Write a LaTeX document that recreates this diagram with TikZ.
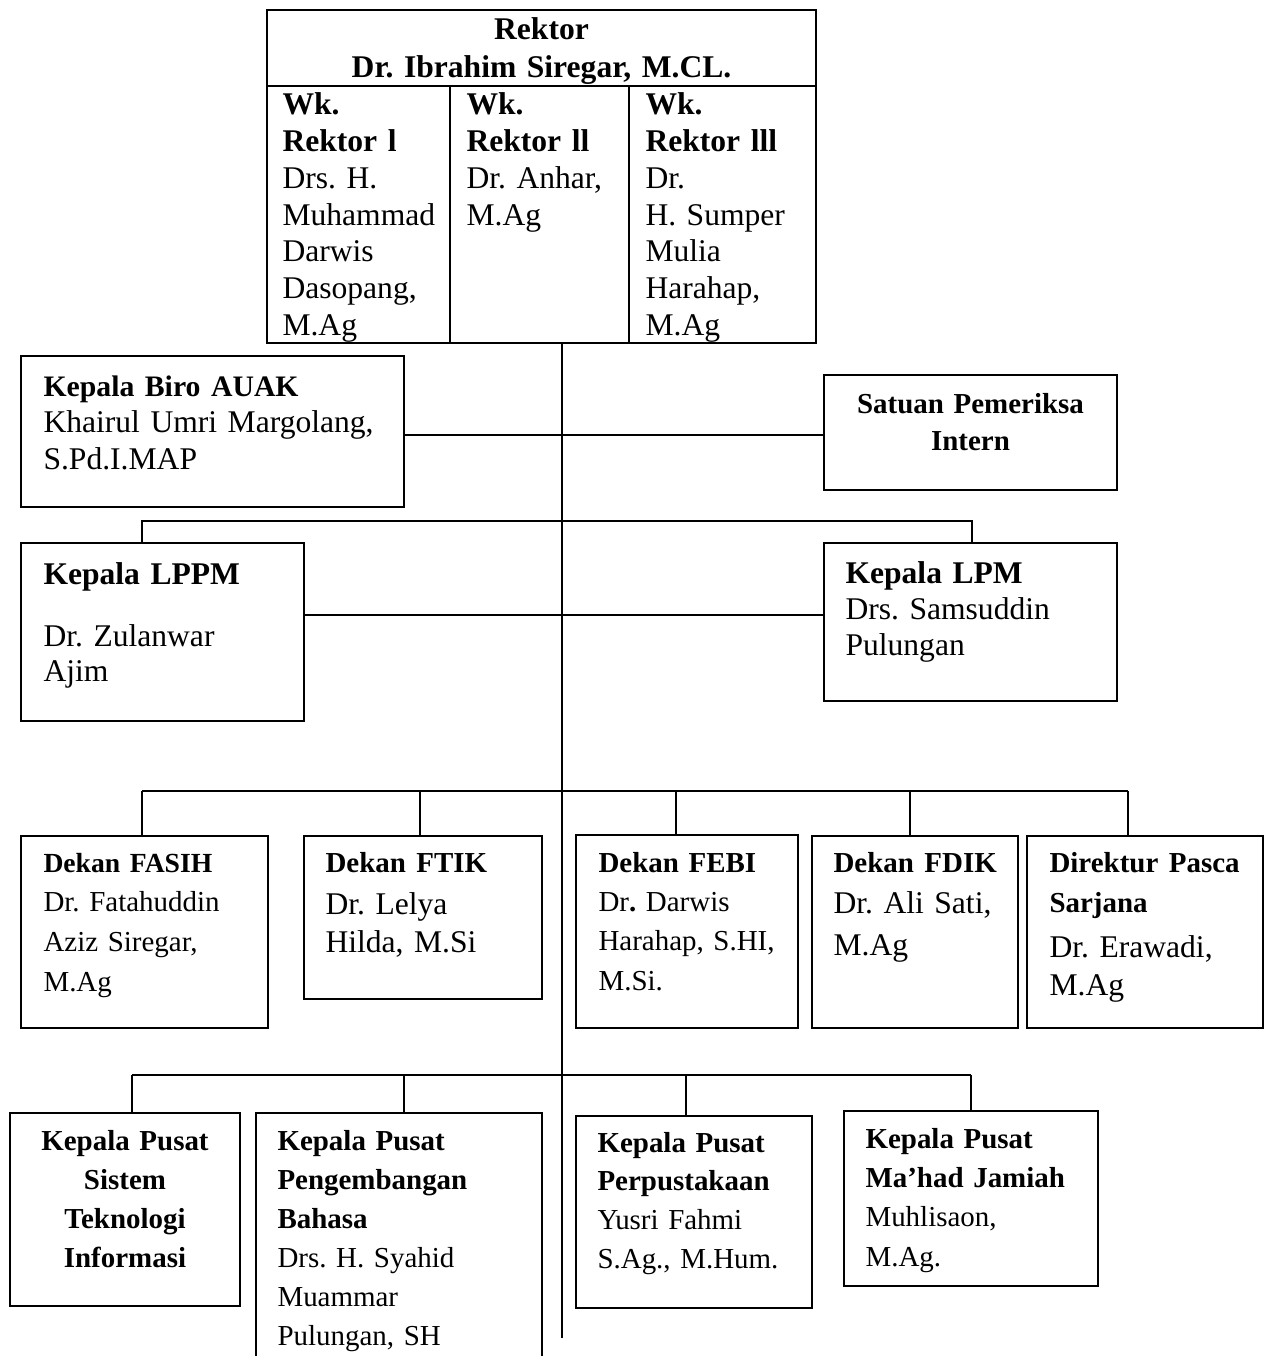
\documentclass[tikz,border=0pt]{standalone}
\usepackage{fontspec}
\setmainfont{Liberation Serif}
\usetikzlibrary{fit}
\newcommand{\bigfont}[1]{\fontsize{12}{#1}\selectfont}
\newcommand{\smallfont}[1]{\fontsize{11}{#1}\selectfont}
\tikzset{
unitbox/.style={draw, line width=0.75pt, inner sep=0pt},
link/.style={line width=0.75pt},
lefttext/.style={inner sep=0pt, anchor=base west, align=left, text width=8cm},
midtext/.style={inner sep=0pt, anchor=base, align=center, text width=8cm}
}

\begin{document}
\frenchspacing
\begin{tikzpicture}[x=0.38pt,y=-0.38pt]
\useasboundingbox (0,0) rectangle (1265,1356);

% ── Rektor table ────────────────────────────────────────────────
\node[unitbox, fit={(267,10) (816,86)}] (rektor) {};
\node[unitbox, fit={(267,86) (450,343)}] (wr1) {};
\node[unitbox, fit={(450,86) (629,343)}] (wr2) {};
\node[unitbox, fit={(629,86) (816,343)}] (wr3) {};
\node[midtext, font=\bigfont{14.1}\bfseries] (rektorTx) at (541.5,40)
 {Rektor\\Dr. Ibrahim Siregar, M.CL.};
\node[lefttext, font=\bigfont{13.95}] (wr1Tx) at (282,115)
 {\textbf{Wk.}\\\textbf{Rektor l}\\Drs. H.\\Muhammad\\Darwis\\Dasopang,\\M.Ag};
\node[lefttext, font=\bigfont{13.95}] (wr2Tx) at (466,115)
 {\textbf{Wk.}\\\textbf{Rektor ll}\\Dr. Anhar,\\M.Ag};
\node[lefttext, font=\bigfont{13.95}] (wr3Tx) at (645,115)
 {\textbf{Wk.}\\\textbf{Rektor lll}\\Dr.\\H. Sumper\\Mulia\\Harahap,\\M.Ag};

% ── Biro, SPI, lembaga ──────────────────────────────────────────
\node[unitbox, fit={(21,356) (404,507)}] (auak) {};
\node[lefttext, font=\bigfont{13.9}] (auakTx) at (43,396)
 {{\fontsize{11.3}{13.9}\selectfont\bfseries Kepala Biro AUAK}\\Khairul Umri Margolang,\\S.Pd.I.MAP};
\node[unitbox, fit={(824,375) (1117,490)}] (spi) {};
\node[midtext, font=\smallfont{14.4}\bfseries] (spiTx) at (970.5,413)
 {Satuan Pemeriksa\\Intern};

\node[unitbox, fit={(21,543) (304,721)}] (lppm) {};
\node[lefttext, font=\bigfont{13.3}] (lppmTx) at (43,584)
 {{\bfseries Kepala LPPM}\\[10.6pt]Dr. Zulanwar\\Ajim};
\node[unitbox, fit={(824,543) (1117,701)}] (lpm) {};
\node[lefttext, font=\bigfont{13.7}] (lpmTx) at (845,583)
 {{\bfseries Kepala LPM}\\Drs. Samsuddin\\Pulungan};

% ── Dekan & Pasca ───────────────────────────────────────────────
\node[unitbox, fit={(21,836) (268,1028)}] (fasih) {};
\node[lefttext, font=\smallfont{15.1}] (fasihTx) at (43,872)
 {{\fontsize{10.5}{15.1}\selectfont\bfseries Dekan FASIH}\\Dr. Fatahuddin\\Aziz Siregar,\\M.Ag};
\node[unitbox, fit={(304,836) (542,999)}] (ftik) {};
\node[lefttext, font=\bigfont{14.4}] (ftikTx) at (325,872)
 {{\smallfont{14.4}\bfseries Dekan FTIK}\\[1.9pt]Dr. Lelya\\Hilda, M.Si};
\node[unitbox, fit={(576,835) (798,1028)}] (febi) {};
\node[lefttext, font=\smallfont{15.0}] (febiTx) at (598,872)
 {{\bfseries Dekan FEBI}\\Dr\textbf{.} Darwis\\Harahap, S.HI,\\M.Si.};
\node[unitbox, fit={(812,836) (1018,1028)}] (fdik) {};
\node[lefttext, font=\bigfont{15.9}] (fdikTx) at (833,872)
 {{\smallfont{15.9}\bfseries Dekan FDIK}\\Dr. Ali Sati,\\M.Ag};
\node[unitbox, fit={(1027,836) (1263,1028)}] (pasca) {};
\node[lefttext, font=\bigfont{15.2}] (pascaTx) at (1049,872)
 {{\smallfont{15.2}\bfseries Direktur Pasca}\\{\smallfont{15.2}\bfseries Sarjana}\\[2pt]Dr. Erawadi,\\[-0.6pt]M.Ag};

% ── Pusat ───────────────────────────────────────────────────────
\node[unitbox, fit={(10,1113) (240,1306)}] (sist) {};
\node[midtext, font=\smallfont{14.9}\bfseries] (sistTx) at (125,1150)
 {Kepala Pusat\\Sistem\\Teknologi\\Informasi};
\node[unitbox, fit={(256,1113) (542,1380)}] (bahasa) {};
\node[lefttext, font=\smallfont{14.85}] (bahasaTx) at (277,1150)
 {{\bfseries Kepala Pusat}\\{\bfseries Pengembangan}\\{\bfseries Bahasa}\\Drs. H. Syahid\\Muammar\\Pulungan, SH};
\node[unitbox, fit={(576,1116) (812,1308)}] (perpus) {};
\node[lefttext, font=\smallfont{14.7}] (perpusTx) at (597,1152)
 {{\bfseries Kepala Pusat}\\{\bfseries Perpustakaan}\\Yusri Fahmi\\S.Ag., M.Hum.};
\node[unitbox, fit={(844,1111) (1098,1286)}] (mahad) {};
\node[lefttext, font=\smallfont{15.0}] (mahadTx) at (865,1148)
 {{\bfseries Kepala Pusat}\\{\bfseries Ma’had Jamiah}\\Muhlisaon,\\M.Ag.};

% ── Connectors ──────────────────────────────────────────────────
\coordinate (trunkEnd) at (562,1338);
\draw[link] (wr2.south -| trunkEnd) -- (trunkEnd);

\coordinate (auRow) at (562,435);
\draw[link] (auak.east |- auRow) -- (spi.west |- auRow);

\coordinate (lpBusL) at (142,521);
\coordinate (lpBusR) at (972,521);
\draw[link] (lppm.north -| lpBusL) -- (lpBusL) -- (lpBusR) -- (lpm.north -| lpBusR);
\coordinate (lpRow) at (562,615);
\draw[link] (lppm.east |- lpRow) -- (lpm.west |- lpRow);

\foreach \dx/\unit in {142/fasih, 420/ftik, 676/febi, 910/fdik, 1128/pasca}{
 \coordinate (dk-\unit) at (\dx,791);
 \draw[link] (dk-\unit) -- (\unit.north -| dk-\unit);
}
\draw[link] (dk-fasih) -- (dk-pasca);

\foreach \dx/\unit in {132/sist, 404/bahasa, 686/perpus, 971/mahad}{
 \coordinate (ps-\unit) at (\dx,1075);
 \draw[link] (ps-\unit) -- (\unit.north -| ps-\unit);
}
\draw[link] (ps-sist) -- (ps-mahad);
\end{tikzpicture}
\end{document}
